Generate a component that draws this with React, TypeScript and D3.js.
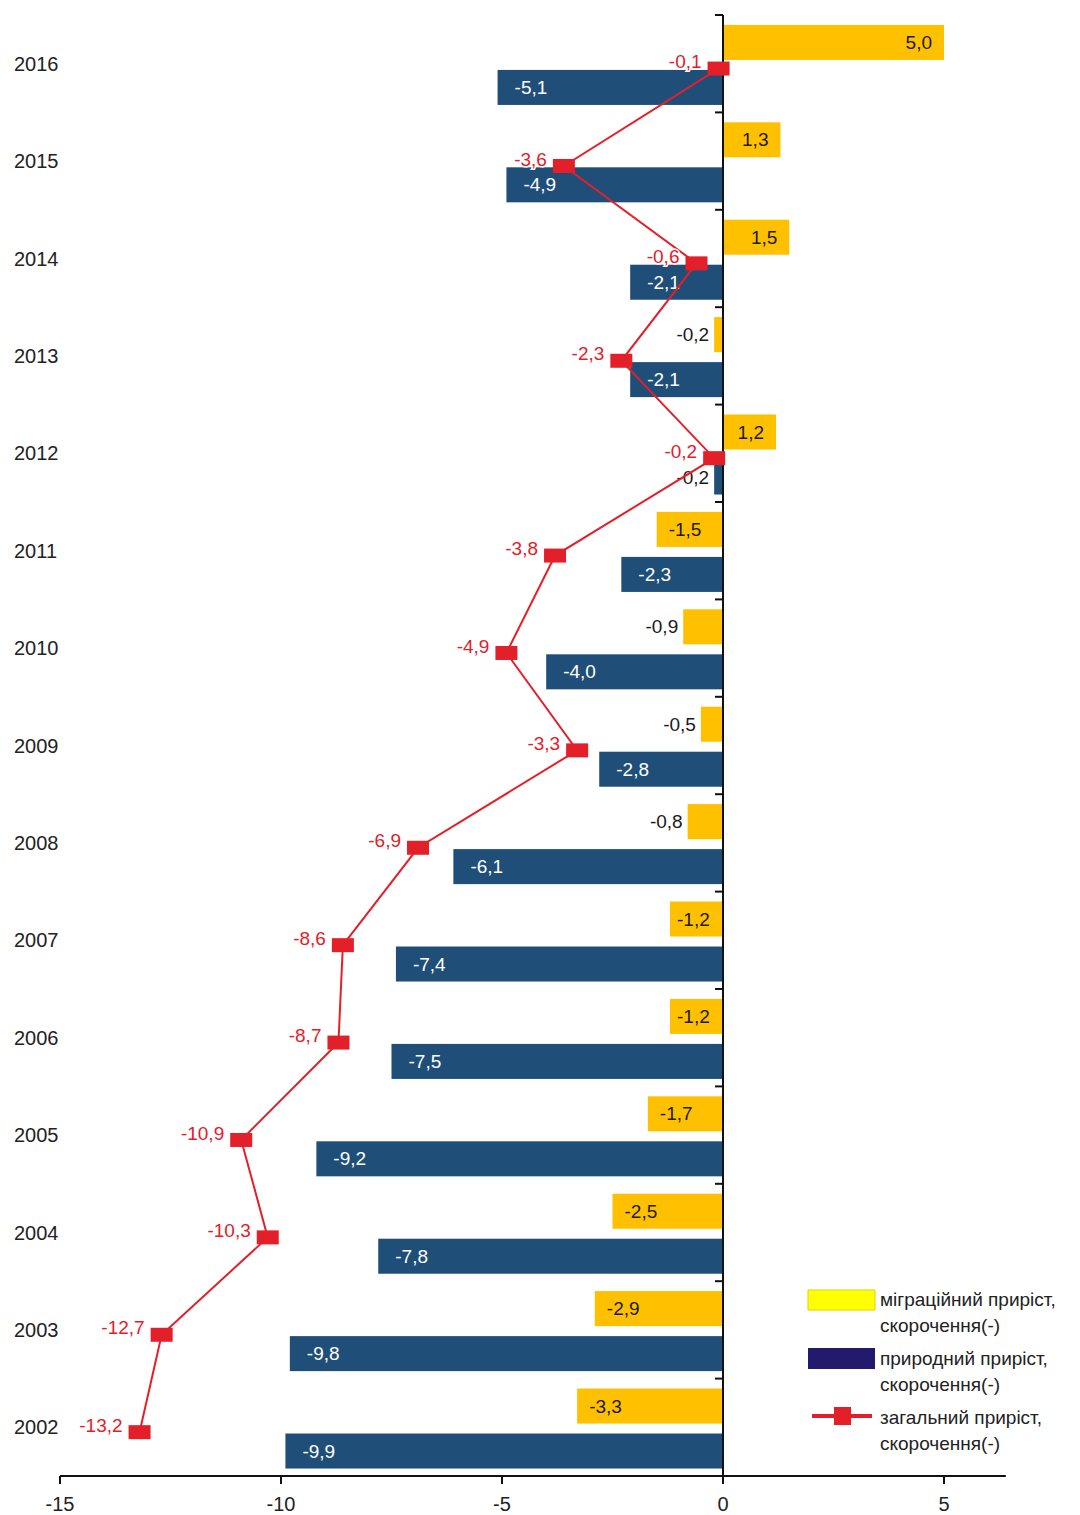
import React from "react";
import * as d3 from "d3";

const years = ["2016","2015","2014","2013","2012","2011","2010","2009","2008","2007","2006","2005","2004","2003","2002"];
const migration = [5.0, 1.3, 1.5, -0.2, 1.2, -1.5, -0.9, -0.5, -0.8, -1.2, -1.2, -1.7, -2.5, -2.9, -3.3];
const natural = [-5.1, -4.9, -2.1, -2.1, -0.2, -2.3, -4.0, -2.8, -6.1, -7.4, -7.5, -9.2, -7.8, -9.8, -9.9];
const total = [-0.1, -3.6, -0.6, -2.3, -0.2, -3.8, -4.9, -3.3, -6.9, -8.6, -8.7, -10.9, -10.3, -12.7, -13.2];
const xTicks = [-15, -10, -5, 0, 5];
const legendItems = [
  ["міграційний приріст,", "скорочення(-)"],
  ["природний приріст,", "скорочення(-)"],
  ["загальний приріст,", "скорочення(-)"],
];

const YELLOW = "#FFC000";
const BLUE = "#1F4E79";
const RED = "#E3202A";
const FONT = "'Liberation Sans', Arial, sans-serif";

const fmt = (v: number) => v.toFixed(1).replace(".", ",");

export default function App() {
  const W = 1080, H = 1515;
  const x = d3.scaleLinear().domain([-15, 5]).range([60, 944]);
  const y = d3.scaleBand<string>().domain(years).range([15, 1476]).padding(0);
  const bw = y.bandwidth();
  const sub = d3.scaleBand<string>().domain(["mig", "nat"]).range([0, bw])
    .paddingInner(0.222).paddingOuter(0.193).align(0.57);
  const sbw = sub.bandwidth();
  const x0 = x(0);
  const lineY = (i: number) => (y(years[i]) as number) + bw * 0.55;
  const lineGen = d3.line<number>().x((d) => x(d)).y((_, i) => lineY(i));

  return (
    <svg width={W} height={H} style={{ display: "block", position: "absolute", left: 0, top: 0 }} fontFamily={FONT}>
      <rect width={W} height={H} fill="#fff" />
      {years.map((yr) => (
        <text key={yr} x={14} y={(y(yr) as number) + bw * 0.5} dy="0.35em" fontSize={20} fill="#222">{yr}</text>
      ))}
      {years.map((yr, i) => {
        const b = y(yr) as number;
        const m = migration[i];
        const n = natural[i];
        const my = b + (sub("mig") as number);
        const ny = b + (sub("nat") as number);
        const mx1 = Math.min(x(m), x0), mx2 = Math.max(x(m), x0);
        const nx1 = Math.min(x(n), x0), nx2 = Math.max(x(n), x0);
        let mLabel;
        if (m > 0) {
          mLabel = <text x={mx2 - 12} y={my + sbw / 2} dy="0.35em" textAnchor="end" fontSize={19} fill="#1a1a1a">{fmt(m)}</text>;
        } else if (m > -1) {
          mLabel = <text x={mx1 - 5} y={my + sbw / 2} dy="0.35em" textAnchor="end" fontSize={19} fill="#1a1a1a">{fmt(m)}</text>;
        } else {
          const sx = Math.min(mx1 + 12, x0 - 46);
          mLabel = <text x={sx} y={my + sbw / 2} dy="0.35em" fontSize={19} fill="#1a1a1a">{fmt(m)}</text>;
        }
        let nLabel;
        if (n > -1) {
          nLabel = <text x={nx1 - 5} y={ny + sbw / 2} dy="0.35em" textAnchor="end" fontSize={19} fill="#1a1a1a">{fmt(n)}</text>;
        } else {
          nLabel = <text x={nx1 + 17} y={ny + sbw / 2} dy="0.35em" fontSize={19} fill="#fff">{fmt(n)}</text>;
        }
        return (
          <g key={yr}>
            <rect x={mx1} y={my} width={mx2 - mx1} height={sbw} fill={YELLOW} />
            <rect x={nx1} y={ny} width={nx2 - nx1} height={sbw} fill={BLUE} />
            {mLabel}
            {nLabel}
          </g>
        );
      })}
      <line x1={x0} x2={x0} y1={15} y2={1476} stroke="#111" strokeWidth={2} />
      {years.map((yr) => (
        <line key={"t" + yr} x1={x0 - 8} x2={x0} y1={y(yr) as number} y2={y(yr) as number} stroke="#111" strokeWidth={2} />
      ))}
      <path d={lineGen(total) as string} fill="none" stroke={RED} strokeWidth={2} />
      {total.map((t, i) => (
        <g key={"m" + i}>
          <rect x={x(t) - 11} y={lineY(i) - 7} width={22} height={14} fill={RED} />
          <text x={x(t) - 17} y={lineY(i) - 7} dy="0.35em" textAnchor="end" fontSize={19} fill={RED}
            stroke="#fff" strokeWidth={3} paintOrder="stroke">{fmt(t)}</text>
        </g>
      ))}
      <line x1={x(-15)} x2={x(6.4)} y1={1476} y2={1476} stroke="#111" strokeWidth={2} />
      {xTicks.map((t) => (
        <g key={"xt" + t}>
          <line x1={x(t)} x2={x(t)} y1={1476} y2={1484} stroke="#111" strokeWidth={2} />
          <text x={x(t)} y={1504} dy="0.35em" textAnchor="middle" fontSize={20} fill="#222">{t}</text>
        </g>
      ))}
      <g>
        <rect x={808} y={1290} width={67} height={20} fill="#FFFF00" stroke="#E6D200" strokeWidth={1} />
        <rect x={808} y={1348} width={67} height={21} fill="#231A6E" />
        <line x1={812} x2={872} y1={1416} y2={1416} stroke={RED} strokeWidth={4} />
        <rect x={834} y={1407} width={17} height={18} fill={RED} />
        {legendItems.map((it, i) => (
          <g key={"lg" + i}>
            <text x={880} y={1299 + i * 59} dy="0.35em" fontSize={19} fill="#222">{it[0]}</text>
            <text x={880} y={1325 + i * 59} dy="0.35em" fontSize={19} fill="#222">{it[1]}</text>
          </g>
        ))}
      </g>
    </svg>
  );
}
